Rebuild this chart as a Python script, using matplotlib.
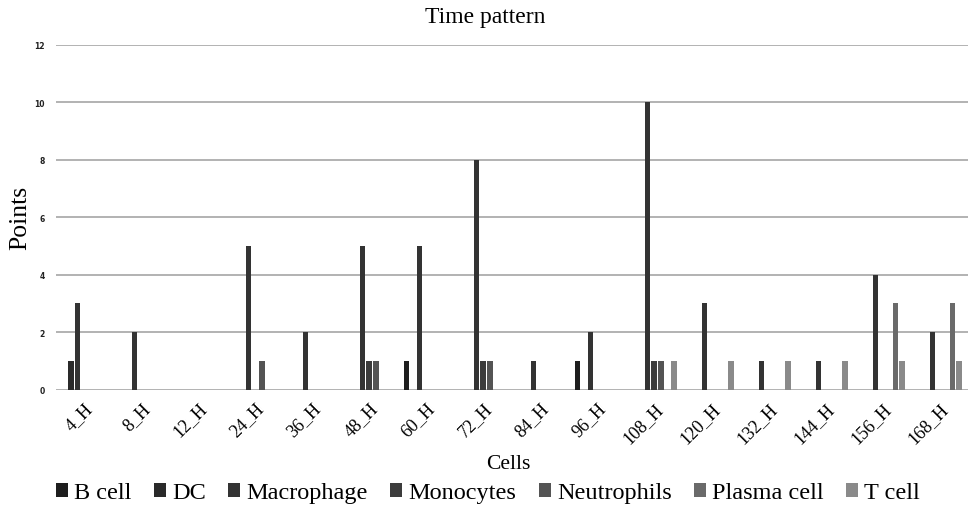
import numpy as np
import matplotlib
matplotlib.use('Agg')
import matplotlib.pyplot as plt
from matplotlib.patches import Patch

# categories (time points) and series (cell types)
hours = ['4_H', '8_H', '12_H', '24_H', '36_H', '48_H', '60_H', '72_H',
         '84_H', '96_H', '108_H', '120_H', '132_H', '144_H', '156_H', '168_H']
cell_types = ['B cell', 'DC', 'Macrophage', 'Monocytes', 'Neutrophils', 'Plasma cell', 'T cell']

b_cell      = [0, 0, 0, 0, 0, 0, 1, 0, 0, 1, 0, 0, 0, 0, 0, 0]
dc          = [1, 0, 0, 0, 0, 0, 0, 0, 0, 0, 0, 0, 0, 0, 0, 0]
macrophage  = [3, 2, 0, 5, 2, 5, 5, 8, 1, 2, 10, 3, 1, 1, 4, 2]
monocytes   = [0, 0, 0, 0, 0, 1, 0, 1, 0, 0, 1, 0, 0, 0, 0, 0]
neutrophils = [0, 0, 0, 1, 0, 1, 0, 1, 0, 0, 1, 0, 0, 0, 0, 0]
plasma_cell = [0, 0, 0, 0, 0, 0, 0, 0, 0, 0, 0, 0, 0, 0, 3, 3]
t_cell      = [0, 0, 0, 0, 0, 0, 0, 0, 0, 0, 1, 1, 1, 1, 1, 1]

series = [b_cell, dc, macrophage, monocytes, neutrophils, plasma_cell, t_cell]
colors = ['#1e1e1e', '#2a2a2a', '#333333', '#3c3c3c', '#545454', '#6a6a6a', '#8a8a8a']

W, H = 971, 510
fig = plt.figure(figsize=(W / 100, H / 100), dpi=100)
ax = fig.add_axes([55.7 / W, 1 - 390.7 / H, 912 / W, 345 / H])

x = np.arange(len(hours))
pitch = 0.1158
width = 0.0965
for i, vals in enumerate(series):
    ax.bar(x + (i - 3) * pitch, vals, width, color=colors[i], zorder=3)

ax.set_xlim(-0.5, len(hours) - 0.5)
ax.set_ylim(0, 12)
ax.set_yticks(range(0, 13, 2))
ax.grid(axis='y', color='#a6a6a6', linewidth=1.2, zorder=0)
for s in ax.spines.values():
    s.set_visible(False)

ax.tick_params(axis='y', length=0, pad=8)
for lab in ax.get_yticklabels():
    lab.set_fontfamily('DejaVu Sans')
    lab.set_fontweight('bold')
    lab.set_fontsize(5.5)
    lab.set_color('#222222')

ax.set_xticks(x)
ax.set_xticklabels(hours, rotation=45, ha='right', rotation_mode='anchor',
                   fontfamily='Liberation Serif', fontsize=13)
ax.tick_params(axis='x', length=0, pad=7)

fig.text(0.5, 1 - 17 / H, 'Time pattern', ha='center', va='center',
         fontfamily='Liberation Serif', fontsize=17)
fig.text(20 / W, 1 - 218 / H, 'Points', ha='center', va='center', rotation=90,
         fontfamily='Liberation Serif', fontsize=18.5)
fig.text(508 / W, 1 - 465 / H, 'Cells', ha='center', va='center',
         fontfamily='Liberation Serif', fontsize=15.5)

handles = [Patch(facecolor=c, edgecolor='none') for c in colors]
fig.legend(handles, cell_types, loc='center', bbox_to_anchor=(488 / W, 1 - 494 / H),
           ncol=7, frameon=False, handlelength=0.5, handleheight=0.5,
           handletextpad=0.25, columnspacing=0.92,
           prop={'family': 'Liberation Serif', 'size': 17.5})

fig.savefig('out.png', dpi=100)
